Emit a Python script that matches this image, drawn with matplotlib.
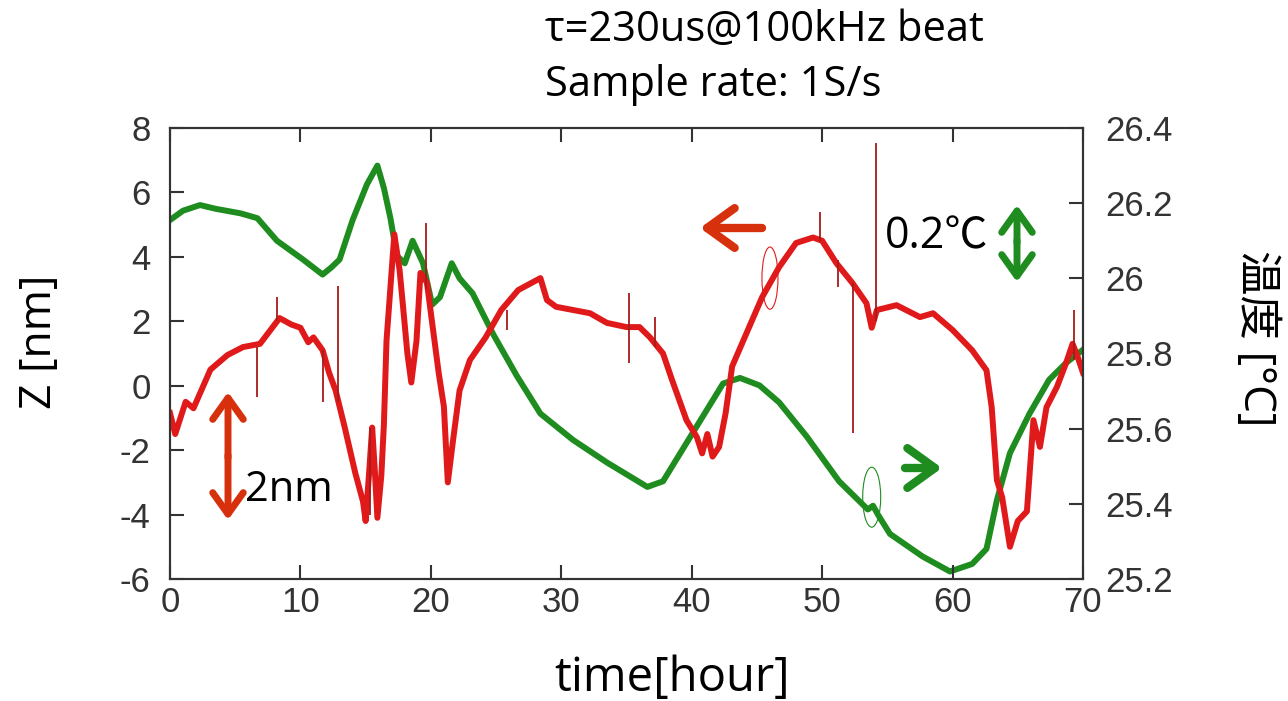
import matplotlib
matplotlib.use("Agg")
import matplotlib.pyplot as plt
from matplotlib.patches import Ellipse

plt.rcParams['axes.unicode_minus'] = False

W, H = 1288, 701

# temperature trace (right axis, degC)
temp_t = [0, 1.0, 2.3, 3.5, 5.4, 6.7, 8.2, 10.2, 11.7, 12.4, 13.0, 14.0, 15.1, 15.9,
          16.4, 16.9, 17.4, 18.0, 18.6, 19.4, 20.1, 20.7, 21.6, 22.2, 23.2, 24.8,
          26.6, 28.4, 30.9, 33.5, 36.6, 37.8, 40.1, 42.4, 43.7, 45.2, 46.7, 48.8,
          51.3, 53.5, 53.9, 54.3, 55.2, 57.7, 59.8, 61.5, 62.6, 63.4, 64.4, 65.9,
          67.4, 68.7, 70]
temp_v = [26.155, 26.18, 26.195, 26.185, 26.173, 26.16, 26.10, 26.05, 26.01, 26.03,
          26.05, 26.155, 26.25, 26.30, 26.24, 26.16, 26.06, 26.04, 26.10, 26.04,
          25.93, 25.95, 26.04, 26.0, 25.96, 25.85, 25.74, 25.64, 25.57, 25.51,
          25.445, 25.46, 25.59, 25.72, 25.735, 25.715, 25.67, 25.58, 25.46, 25.385,
          25.395, 25.37, 25.32, 25.26, 25.22, 25.24, 25.28, 25.41, 25.535, 25.64,
          25.73, 25.775, 25.81]

# Z trace (left axis, nm)
z_t = [0, 0.4, 1.2, 1.8, 3.1, 4.4, 5.6, 6.9, 8.4, 9.3, 10.0, 10.6, 11.0, 11.7, 12.2,
       12.7, 13.4, 14.2, 14.8, 15.0, 15.3, 15.5, 15.7, 15.9, 16.2, 16.4, 16.6, 17.2,
       17.6, 17.8, 18.2, 18.5, 18.9, 19.2, 19.7, 20.1, 20.6, 21.0, 21.3, 21.7, 22.2,
       23.0, 24.2, 25.4, 26.7, 28.4, 28.9, 29.6, 32.2, 33.5, 35.0, 36.0, 36.8, 37.8,
       38.5, 39.6, 40.4, 40.8, 41.2, 41.6, 42.1, 42.6, 43.1, 44.2, 45.4, 46.7, 48.0,
       49.3, 50.0, 51.1, 52.3, 53.4, 53.8, 54.2, 55.7, 57.5, 58.5, 60.0, 61.5, 62.6,
       63.0, 63.4, 63.8, 64.4, 65.0, 65.7, 66.2, 66.7, 67.2, 68.0, 68.7, 69.2, 69.5, 70]
z_v = [-0.85, -1.5, -0.5, -0.7, 0.5, 0.95, 1.2, 1.3, 2.1, 1.9, 1.8, 1.35, 1.5, 1.1, 0.4,
       -0.15, -1.3, -2.7, -3.6, -4.2, -2.5, -1.3, -2.6, -4.1, -2.8, -1.2, 1.4, 4.7,
       3.6, 2.75, 1.0, 0.1, 1.4, 3.5, 3.2, 1.95, 0.4, -0.65, -3.0, -1.7, -0.15,
       0.8, 1.5, 2.35, 2.97, 3.34, 2.66, 2.45, 2.25, 1.95, 1.82, 1.82, 1.5, 1.0,
       0.17, -1.07, -1.6, -2.1, -1.5, -2.2, -1.9, -0.85, 0.6, 1.63, 2.75, 3.68, 4.43,
       4.6, 4.5, 3.8, 3.2, 2.56, 1.8, 2.35, 2.5, 2.13, 2.25, 1.73, 1.1, 0.48,
       -0.67, -2.93, -3.46, -5.0, -4.2, -3.9, -1.07, -1.9, -0.67, -0.04, 0.7, 1.3, 1.0, 0.4]

# glitches in the Z trace
spike_t = [6.7, 8.2, 11.7, 12.9, 15.3, 19.6, 25.8, 35.2, 37.2, 49.8, 51.2, 52.4, 54.1, 69.3]
spike_lo = [-0.35, 2.0, -0.5, -0.5, -4.0, 3.0, 1.73, 0.7, 1.2, 4.5, 3.06, -1.47, 2.0, 0.8]
spike_hi = [1.2, 2.75, 1.1, 3.1, -1.3, 5.05, 2.35, 2.87, 2.13, 5.4, 3.9, 3.2, 7.53, 2.35]

xticks = [0, 10, 20, 30, 40, 50, 60, 70]
zticks = [-6, -4, -2, 0, 2, 4, 6, 8]
tticks = [25.2, 25.4, 25.6, 25.8, 26.0, 26.2, 26.4]
tlabels = ['25.2', '25.4', '25.6', '25.8', '26', '26.2', '26.4']

RED = '#e01a1a'
GREEN = '#1e8c1e'
ARED = '#d6300c'
TXT = ['Open Sans', 'Noto Sans CJK JP', 'DejaVu Sans']

fig = plt.figure(figsize=(W / 100, H / 100), dpi=100)
ax = fig.add_axes([170 / W, 1 - 579 / H, (1083 - 170) / W, (579 - 128) / H])
ax2 = ax.twinx()

ax2.plot(temp_t, temp_v, color=GREEN, lw=4.3, solid_joinstyle='round')
ax.plot(z_t, z_v, color=RED, lw=4.3, solid_joinstyle='round')
ax.vlines(spike_t, spike_lo, spike_hi, color='#a81a1a', lw=1.3)

ax.set_zorder(ax2.get_zorder() + 1)
ax.patch.set_visible(False)

ax.set_xlim(0, 70)
ax.set_ylim(-6, 8)
ax2.set_ylim(25.2, 26.4)
ax.set_xticks(xticks)
ax.set_yticks(zticks)
ax2.set_yticks(tticks)
ax2.set_yticklabels(tlabels)

for a in (ax, ax2):
    for s in a.spines.values():
        s.set_color('#333333')
        s.set_linewidth(1.5)
    for lab in a.get_xticklabels() + a.get_yticklabels():
        lab.set_family('Liberation Sans')
ax.tick_params(direction='in', length=10, width=1.5, labelsize=25, colors='#333333')
ax.tick_params(axis='x', top=True, pad=5)
ax.tick_params(axis='y', pad=14)
ax2.tick_params(direction='in', length=10, width=1.5, labelsize=25, colors='#333333', pad=16)

# labels
fig.text(672 / W, 1 - 678 / H, 'time[hour]', fontsize=34, family=TXT,
         ha='center', va='center')
fig.text(40 / W, 1 - 342 / H, 'Z [nm]', fontsize=32, family=TXT,
         ha='center', va='center', rotation=90)
fig.text(1255 / W, 1 - 338 / H, '温度 [°C]', fontsize=32, family=TXT,
         ha='center', va='center', rotation=-90)
fig.text(545 / W, 1 - 30 / H, 'τ=230us@100kHz beat', fontsize=30, family=TXT,
         ha='left', va='center')
fig.text(545 / W, 1 - 85 / H, 'Sample rate: 1S/s', fontsize=30, family=TXT,
         ha='left', va='center')
fig.text(245 / W, 1 - 490 / H, '2nm', fontsize=30, family=TXT,
         ha='left', va='center')
fig.text(885 / W, 1 - 237 / H, '0.2℃', fontsize=31, family=TXT,
         ha='left', va='center')

# arrows, in figure pixels
def arrow(tail, head, color, style, lw=5):
    ax.annotate('', xy=(head[0], H - head[1]), xytext=(tail[0], H - tail[1]),
                xycoords='figure pixels', textcoords='figure pixels',
                arrowprops=dict(arrowstyle=style, color=color, lw=lw,
                                mutation_scale=22, capstyle='round',
                                joinstyle='round', shrinkA=0, shrinkB=0))

arrow((762, 228), (700, 228), ARED, '->,head_length=0.9,head_width=0.65', lw=6)
arrow((905, 468), (942, 468), GREEN, '->,head_length=0.9,head_width=0.65', lw=6)
arrow((228, 458), (228, 392), ARED, '->,head_length=0.7,head_width=0.5')
arrow((228, 455), (228, 520), ARED, '->,head_length=0.7,head_width=0.5')
arrow((1017, 243), (1017, 205), GREEN, '->,head_length=0.7,head_width=0.5')
arrow((1017, 240), (1017, 282), GREEN, '->,head_length=0.7,head_width=0.5')

ax.add_patch(Ellipse((46.0, 3.34), 1.23, 1.93, fill=False, ec=RED, lw=0.8))
ax.add_patch(Ellipse((53.8, -3.46), 1.38, 1.86, fill=False, ec=GREEN, lw=0.8))

fig.savefig('out.png', dpi=100)
